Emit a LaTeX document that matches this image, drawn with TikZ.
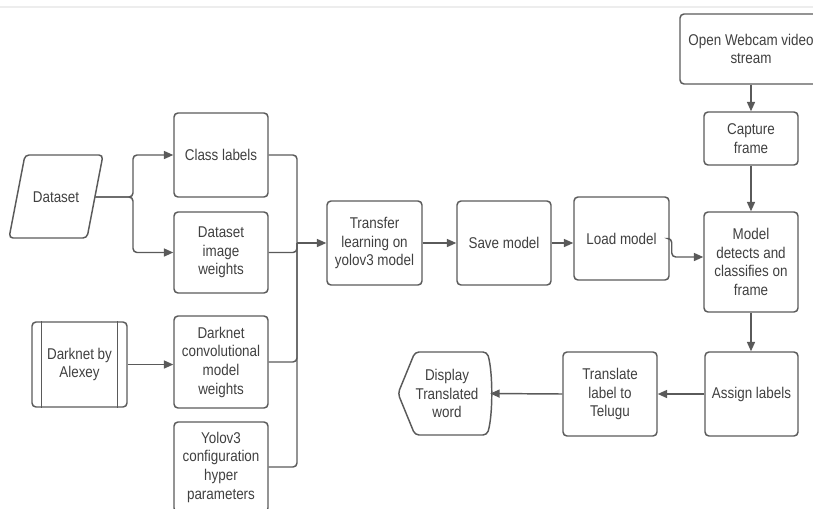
\documentclass[tikz,border=0pt]{standalone}
\usepackage{fontspec}
\setmainfont{Liberation Sans}[FakeStretch=0.86]
\usetikzlibrary{arrows.meta}
\definecolor{lncol}{HTML}{5A5A5A}
\definecolor{txcol}{HTML}{404040}
\begin{document}
\begin{tikzpicture}[x=0.75pt,y=-0.75pt,
  txt/.style={align=center, text=txcol, font=\fontsize{11.7}{14}\selectfont, inner sep=2pt},
  box/.style={txt, draw=lncol, line width=1.1pt, rounded corners=3pt},
  outl/.style={draw=lncol, line width=1.1pt},
  wire/.style={draw=lncol, line width=1.1pt},
  arr/.style={wire, -{Triangle[length=7pt,width=6pt]}}]
\useasboundingbox (0,0) rectangle (813,508);
\draw[color=black!7, line width=1.5pt] (0,7) -- (813,7);

% left column
\node[txt, minimum width=58.5pt] (ds) at (56,197) {Dataset};
\draw[outl, rounded corners=3pt] (25,155) -- (103,155) -- (87,238) -- (9,238) -- cycle;

\node[box, minimum width=71.25pt, minimum height=63.75pt] (dark) at (79.5,364.5) {Darknet by\\Alexey};
\draw[outl] ([xshift=7.5pt]dark.north west) -- ([xshift=7.5pt]dark.south west);
\draw[outl] ([xshift=-7.5pt]dark.north east) -- ([xshift=-7.5pt]dark.south east);

\node[box, minimum width=70.5pt, minimum height=63pt] (cls) at (221,155) {Class labels};
\node[box, minimum width=70.5pt, minimum height=60.75pt] (diw) at (221,252.5) {Dataset\\image\\weights};
\node[box, minimum width=70.5pt, minimum height=69pt] (dcw) at (221,362) {Darknet\\convolutional\\model\\weights};
\node[box, minimum width=70.5pt, minimum height=67.5pt] (yolo) at (221,467) {Yolov3\\configuration\\hyper\\parameters};

% middle row
\node[box, minimum width=71.25pt, minimum height=63pt] (tl) at (374.5,243) {Transfer\\learning on\\yolov3 model};
\node[box, minimum width=70.5pt, minimum height=63pt] (save) at (504,243) {Save model};
\node[box, minimum width=71.25pt, minimum height=62.25pt] (load) at (621.5,238.5) {Load model};

% right column
\node[box, minimum width=106.5pt, minimum height=52.5pt] (web) at (751,49) {Open Webcam video\\stream};
\node[box, minimum width=70.5pt, minimum height=39.75pt] (cap) at (751,138.5) {Capture\\frame};
\node[box, minimum width=70.5pt, minimum height=75pt] (model) at (751,262) {Model\\detects and\\classifies on\\frame};
\node[box, minimum width=69.75pt, minimum height=63pt] (assign) at (751.5,394) {Assign labels};
\node[box, minimum width=70.5pt, minimum height=63pt] (trans) at (610,394) {Translate\\label to\\Telugu};

\node[txt, minimum width=64.5pt] (disp) at (447,393.5) {Display\\Translated\\word};
\draw[outl, rounded corners=3pt] (415,352) -- (487,352) .. controls (493,372) and (493,415) .. (487,435) -- (415,435) -- (398,393.5) -- cycle;

% connectors
\coordinate (br) at (133,197);
\draw[arr, rounded corners=3pt] (ds.east) -- (br) |- (cls.west);
\draw[arr, rounded corners=3pt] (ds.east) -- (br) |- (diw.west);
\draw[arr] (dark.east) -- (dark.east -| dcw.west);

\coordinate (mj) at (297,243);
\draw[wire, rounded corners=3pt] (cls.east) -| (mj);
\draw[wire, rounded corners=3pt] (diw.east) -| (mj);
\draw[wire, rounded corners=3pt] (dcw.east) -| (mj);
\draw[wire, rounded corners=3pt] (yolo.east) -| (mj);
\draw[arr] (mj) -- (tl.west);
\draw[arr] (tl.east) -- (save.west);
\draw[arr] (save.east) -- (save.east -| load.west);
\coordinate (lmy) at (0,257);
\draw[arr, rounded corners=3pt] (load.east) -- ++(2,0) |- (model.west |- lmy);

\draw[arr] (web.south) -- (cap.north);
\draw[arr] (cap.south) -- (model.north);
\draw[arr] (model.south) -- (model.south |- assign.north);
\draw[arr] (assign.west) -- (trans.east);
\draw[arr] (trans.west) -- (disp.east);
\end{tikzpicture}
\end{document}
